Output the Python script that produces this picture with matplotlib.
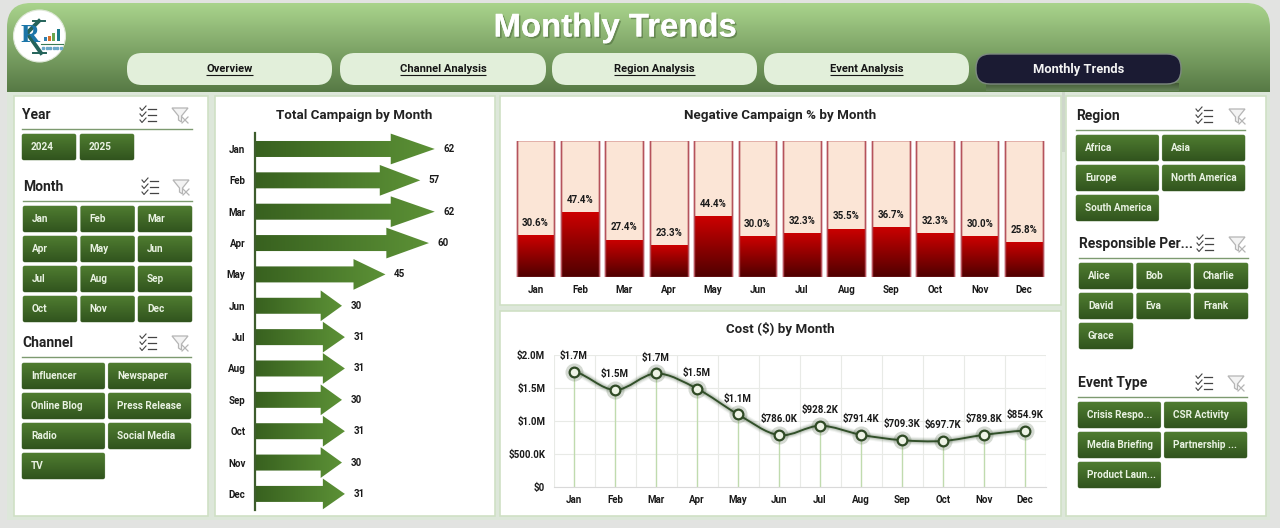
import numpy as np
import matplotlib
matplotlib.use("Agg")
import matplotlib.pyplot as plt
from matplotlib.colors import LinearSegmentedColormap as LSC
from matplotlib.patches import FancyBboxPatch, Rectangle, Polygon, Circle, PathPatch
from matplotlib.path import Path
import matplotlib.patheffects as pe

plt.rcParams['font.family'] = ['Roboto', 'DejaVu Sans']

months = ['Jan','Feb','Mar','Apr','May','Jun','Jul','Aug','Sep','Oct','Nov','Dec']
total_campaign = [62,57,62,60,45,30,31,31,30,31,30,31]
negative_pct = [30.6,47.4,27.4,23.3,44.4,30.0,32.3,35.5,36.7,32.3,30.0,25.8]
cost = [1.75e6,1.47e6,1.72e6,1.49e6,1.10e6,786.0e3,928.2e3,791.4e3,709.3e3,697.7e3,789.8e3,854.9e3]
cost_labels = ['$1.7M','$1.5M','$1.7M','$1.5M','$1.1M','$786.0K','$928.2K','$791.4K','$709.3K','$697.7K','$789.8K','$854.9K']
cost_ticks = [0,0.5e6,1e6,1.5e6,2e6]
cost_ticklabels = ['$0','$500.0K','$1.0M','$1.5M','$2.0M']
tabs = ['Overview','Channel Analysis','Region Analysis','Event Analysis','Monthly Trends']
years = ['2024','2025']
channels = ['Influencer','Newspaper','Online Blog','Press Release','Radio','Social Media','TV']
regions = ['Africa','Asia','Europe','North America','South America']
people = ['Alice','Bob','Charlie','David','Eva','Frank','Grace']
events = ['Crisis Respo...','CSR Activity','Media Briefing','Partnership ...','Product Laun...']

W, H = 1280, 528
fig = plt.figure(figsize=(W/100, H/100), dpi=100, facecolor='#e2e3e1')
bg = fig.add_axes([0, 0, 1, 1])
bg.set_axis_off()

def restore():
    bg.set_xlim(0, W); bg.set_ylim(H, 0)
restore()

def grad(ax, c1, c2, extent, clip=None, horizontal=False, zorder=2):
    cm = LSC.from_list('g', [c1, c2])
    arr = np.linspace(0, 1, 64)
    arr = arr.reshape(1, -1) if horizontal else arr.reshape(-1, 1)
    im = ax.imshow(arr, cmap=cm, extent=extent, aspect='auto', origin='upper', zorder=zorder, interpolation='bilinear')
    if clip is not None:
        im.set_clip_path(clip)
    return im

def rbox(x0, y0, x1, y1, r, fc, ec='none', lw=0, zorder=2):
    p = FancyBboxPatch((x0+r, y0+r), x1-x0-2*r, y1-y0-2*r, boxstyle=f'round,pad={r},rounding_size={r}',
                       fc=fc, ec=ec, lw=lw, zorder=zorder, mutation_aspect=1)
    bg.add_patch(p)
    return p

# body and header
bg.add_patch(Rectangle((7, 88), 1263, 432, fc='#dde7da', ec='none', zorder=1))
hdr = rbox(7, 3, 1270, 130, 24, 'none', zorder=1)
grad(bg, '#a9d38c', '#577a45', (7, 1270, 92, 3), clip=hdr, zorder=1.5)

# panels
for x0, y0, x1, y1 in [(14,96,208,516),(215,96,495,516),(500,96,1061,305),(500,311,1061,516),(1066,96,1266,516)]:
    bg.add_patch(Rectangle((x0, y0), x1-x0, y1-y0, fc='white', ec='#cfe0c5', lw=1.2, zorder=2))
bg.add_patch(Rectangle((1062, 92), 3, 60, fc='#c9d1c5', ec='none', alpha=.7, zorder=1.8))

# title
bg.text(615, 28, 'Monthly Trends', ha='center', va='center', color='white', fontsize=23.7,
        fontweight='bold', family='Liberation Sans', zorder=5,
        path_effects=[pe.withSimplePatchShadow(offset=(1.2, -1.2), shadow_rgbFace='#4f6d3e', alpha=.6), pe.Normal()])

# logo
bg.add_patch(Circle((39.5, 36), 26, fc='white', ec='#dfe8d8', lw=.8, zorder=4))
bg.plot([39, 27, 41], [21, 33, 53], color='#24635a', lw=2.8, zorder=5, solid_joinstyle='miter')
bg.plot([33, 45], [21, 21], color='#24635a', lw=1.4, zorder=5)
bg.plot([33, 46], [53, 53], color='#24635a', lw=1.4, zorder=5)
bg.text(30, 36, 'R', color='#1b75a8', fontsize=19, fontweight='bold', family='Liberation Serif', ha='center', va='center', zorder=6)
for x, h, c in [(45, 4, '#2f7fb0'), (49, 5, '#d9702a'), (53, 8, '#6aa84f'), (58, 12, '#1b7a8a')]:
    bg.add_patch(Rectangle((x-1, 41-h), 3, h, fc=c, ec='none', zorder=6))
bg.plot([41, 63], [43.5, 43.5], color='#3b7a55', lw=.8, zorder=6)
bg.plot(np.arange(43, 63, 3.5), [48]*6, ls='none', marker='s', ms=1.6, color='#6aa8c8', zorder=6)

# navigation tabs
fig.canvas.draw()
rend = fig.canvas.get_renderer()
for label, (x0, x1) in zip(tabs, [(127,332),(340,546),(552,757),(764,969),(976,1181)]):
    if label == 'Monthly Trends':
        grad(bg, '#435a35', '#66845a', (x0+10, x1-2, 91.5, 84), zorder=1.7)
        rbox(x0, 54, x1, 84, 14, '#1b1b33', ec='#7d8a80', lw=1, zorder=4)
        bg.text((x0+x1)/2, 69.5, label, color='#f4f4f4', fontsize=9.3, fontweight='bold', ha='center', va='center', zorder=5)
    else:
        rbox(x0, 53, x1, 85, 15, '#e2efda', zorder=4)
        t = bg.text((x0+x1)/2, 69, label, color='#151515', fontsize=8, fontweight='bold', ha='center', va='center', zorder=5)
        e = t.get_window_extent(rend)
        bg.plot([e.x0, e.x1], [75, 75], color='#151515', lw=.8, zorder=5, solid_capstyle='butt')

def check_icon(cx, cy):
    for dy in (-6, 0, 6):
        bg.plot([cx-8, cx-6, cx-2], [cy+dy-1, cy+dy+1.5, cy+dy-3], color='#444', lw=.8, zorder=5)
        bg.plot([cx, cx+8], [cy+dy, cy+dy], color='#444', lw=.9, zorder=5)

def filter_icon(cx, cy):
    bg.add_patch(Polygon([(cx-8,cy-7),(cx+8,cy-7),(cx+1.5,cy+1),(cx+1.5,cy+7),(cx-1.5,cy+5),(cx-1.5,cy+1)],
                         closed=True, fc='#f3f3f3', ec='#b5b5b5', lw=.9, zorder=5))
    bg.plot([cx+2, cx+8], [cy+2, cy+8], color='#b5b5b5', lw=.9, zorder=6)
    bg.plot([cx+8, cx+2], [cy+2, cy+8], color='#b5b5b5', lw=.9, zorder=6)

def header(title, x, y, x1, ic1, ic2):
    bg.text(x, y, title, fontsize=10, fontweight='bold', color='#222', ha='left', va='center', zorder=5)
    bg.plot([x, x1], [y+14, y+14], color='#7d9a70', lw=1, zorder=5)
    check_icon(ic1, y); filter_icon(ic2, y)

def button(label, x0, y0, x1, y1):
    p = rbox(x0, y0, x1, y1, 2, '#4f7a30', ec='#7f9a70', lw=.5, zorder=3.2)
    grad(bg, '#4f7c30', '#31541e', (x0, x1, y1, y0), clip=p, zorder=3.3)
    bg.text(x0+9, (y0+y1)/2, label, fontsize=7.2, fontweight='bold', color='#e9f2e2', ha='left', va='center', zorder=5)

def slicer(title, items, x, y, x1, cols, btn_y, step, ic1, ic2):
    header(title, x, y, x1, ic1, ic2)
    w = (x1 - x - (cols-1)*3.5) / cols
    for i, it in enumerate(items):
        r, c = divmod(i, cols)
        bx = x + c*(w+3.5)
        button(it, bx, btn_y+r*step, bx+w, btn_y+r*step+26)

header('Year', 22, 115, 192, 148, 180)
button(years[0], 22, 134, 76, 160)
button(years[1], 80, 134, 134, 160)
slicer('Month', months, 23, 187, 192, 3, 206, 30, 150, 181)
slicer('Channel', channels, 22, 343, 191, 2, 363, 30, 148, 180)
slicer('Region', regions, 1076, 116, 1245, 2, 135, 30, 1204, 1237)
slicer('Responsible Per...', people, 1079, 244, 1248, 3, 263, 30, 1205, 1237)
slicer('Event Type', events, 1078, 383, 1247, 2, 402, 30, 1204, 1236)
restore()

def pix_axes(x0, y0, x1, y1):
    ax = fig.add_axes([x0/W, 1-y1/H, (x1-x0)/W, (y1-y0)/H], zorder=3)
    ax.patch.set_alpha(0)
    return ax

title_kw = dict(fontsize=9.6, fontweight='bold', color='#222', ha='center', va='center', zorder=6)
lab_kw = dict(fontsize=7, fontweight='bold', color='#1a1a1a')
bg.text(354.5, 115, 'Total Campaign by Month', **title_kw)
bg.text(780, 115, 'Negative Campaign % by Month', **title_kw)
bg.text(780, 329.5, 'Cost ($) by Month', **title_kw)

# Total Campaign arrows
ax1 = pix_axes(255, 133.3, 480, 509.6)
for i, v in enumerate(total_campaign):
    hl = .245*v
    poly = Polygon([(0,i-.255),(v-hl,i-.255),(v-hl,i-.49),(v,i),(v-hl,i+.49),(v-hl,i+.255),(0,i+.255)],
                   closed=True, fc='none', ec='none', transform=ax1.transData)
    ax1.add_patch(poly)
    grad(ax1, '#38611f', '#5c9136', (0, v, i+.6, i-.6), clip=poly, horizontal=True)
    ax1.annotate(str(v), (v, i), xytext=(10, 0), textcoords='offset points', ha='center', va='center', **lab_kw)
ax1.set_xlim(0, 77.6); ax1.set_ylim(11.5, -.5)
ax1.set_xticks([]); ax1.set_yticks(range(12)); ax1.set_yticklabels(months, **lab_kw)
ax1.tick_params(length=0, pad=7)
for s in ['top','right','bottom']:
    ax1.spines[s].set_visible(False)
ax1.spines['left'].set_color('#3d5c2c'); ax1.spines['left'].set_linewidth(1.6)

# Negative %
ax2 = pix_axes(513.3, 140.5, 1046.2, 277)
x = np.arange(12)
bars = ax2.bar(x, negative_pct, width=.85, color='#a00000', edgecolor='none', zorder=2)
ax2.bar(x, [100]*12, width=.85, color='#fbe5d6', edgecolor='#b5535c', linewidth=1, zorder=1)
ax2.bar(x, [100]*12, width=.85, color='none', edgecolor='#b5535c', linewidth=1, zorder=3.5)
for b, v, i in zip(bars, negative_pct, x):
    grad(ax2, '#cc0000', '#500000', (i-.425, i+.425, 0, v), clip=b, zorder=3)
    ax2.annotate(f'{v:.1f}%', (i, v), xytext=(0, 8.8), textcoords='offset points', ha='center', va='center', zorder=4, **lab_kw)
ax2.set_xlim(-.5, 11.5); ax2.set_ylim(0, 100)
ax2.set_yticks([]); ax2.set_xticks(x); ax2.set_xticklabels(months, **lab_kw)
ax2.tick_params(length=0, pad=5.5)
for s in ax2.spines.values():
    s.set_visible(False)

# Cost
ax3 = pix_axes(553.5, 355, 1045.5, 487)
y = np.array(cost)
ax3.set_xlim(-.5, 11.5); ax3.set_ylim(0, 2e6)
ax3.set_yticks(cost_ticks); ax3.set_yticklabels(cost_ticklabels, **lab_kw)
ax3.set_xticks(x); ax3.set_xticklabels(months, **lab_kw)
ax3.set_xticks(np.arange(-.5, 12), minor=True)
ax3.grid(which='minor', axis='x', color='#e8eae6', lw=.8)
ax3.grid(which='major', axis='y', color='#e8eae6', lw=.8)
ax3.set_axisbelow(True)
ax3.tick_params(which='both', length=0)
ax3.tick_params(axis='x', pad=6); ax3.tick_params(axis='y', pad=6)
for k, s in ax3.spines.items():
    s.set_visible(k == 'bottom')
ax3.spines['bottom'].set_color('#d9d9d9')
ax3.vlines(x, 0, y, color='#c0dbae', lw=1, zorder=2)
verts = [(x[0], y[0])]; codes = [Path.MOVETO]
for i in range(11):
    p0 = y[max(i-1, 0)]; p1 = y[i]; p2 = y[i+1]; p3 = y[min(i+2, 11)]
    verts += [(x[i]+1/3, p1+(p2-p0)/6), (x[i+1]-1/3, p2-(p3-p1)/6), (x[i+1], p2)]
    codes += [Path.CURVE4]*3
for lw, al in [(6, .06), (4.5, .10), (3, .14)]:
    ax3.add_patch(PathPatch(Path(verts, codes), fc='none', ec='#2f4a25', lw=lw, alpha=al, zorder=3))
ax3.add_patch(PathPatch(Path(verts, codes), fc='none', ec='#32502a', lw=1.4, zorder=4))
ax3.plot(x, y, ls='none', marker='o', ms=13, mfc='#2f4a25', mec='none', alpha=.2, zorder=4.5)
ax3.plot(x, y, ls='none', marker='o', ms=7, mfc='#eef3e6', mec='#2f4a25', mew=1.6, zorder=5)
for i, (v, l) in enumerate(zip(y, cost_labels)):
    ax3.annotate(l, (i, v), xytext=(0, 11.5), textcoords='offset points', ha='center', va='center', zorder=6, annotation_clip=False, **lab_kw)

fig.savefig('out.png', dpi=100, facecolor=fig.get_facecolor())
